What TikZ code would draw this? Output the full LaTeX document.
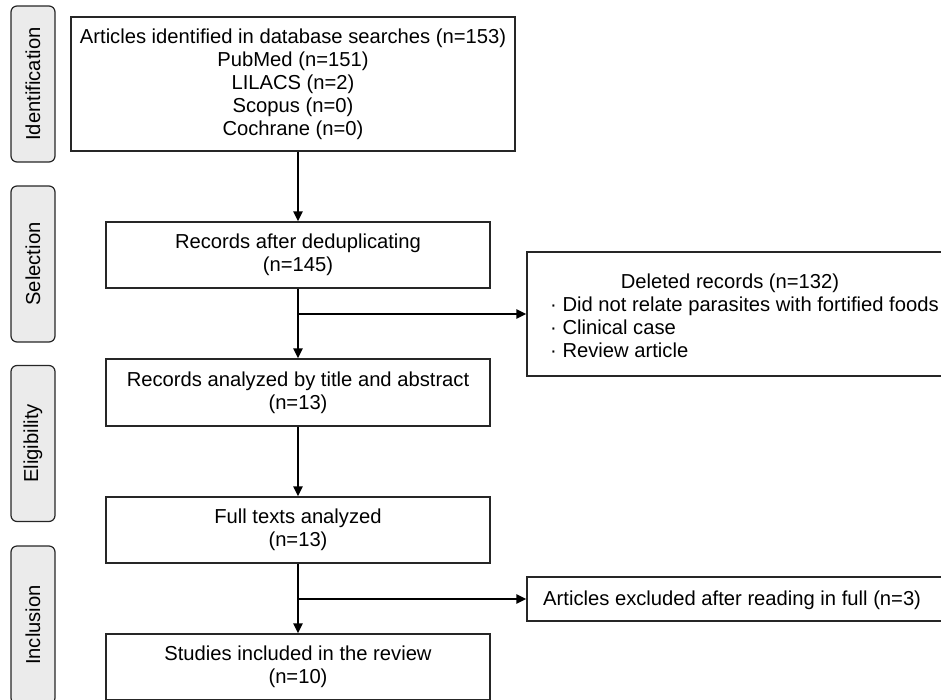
\documentclass[tikz,border=0pt]{standalone}
\usepackage{fontspec}
\setmainfont{Liberation Sans}
\usetikzlibrary{arrows.meta}
\begin{document}
\begin{tikzpicture}[x=1pt,y=-1pt,
  every node/.style={font=\fontsize{20.2}{23}\selectfont, inner sep=0pt},
  box/.style={draw=black!85, line width=1.3pt, fill=white, align=center},
  phase/.style={draw=black!85, line width=1.2pt, fill=black!8, rounded corners=6pt,
    rotate=90, minimum width=156pt, minimum height=44pt},
  conn/.style={line width=2.2pt, -{Triangle[length=10pt,width=9pt]}}]
\useasboundingbox (0,0) rectangle (941,699);
\clip (0,0) rectangle (941,699);
% phase labels
\node[phase] (pI) at (33,84) {Identification};
\node[phase] (pS) at (33,264) {Selection};
\node[phase] (pE) at (33,443.5) {Eligibility};
\node[phase, minimum width=158pt] (pN) at (33,625) {Inclusion};
% main boxes
\node[box, minimum width=444pt, minimum height=134pt] (b1) at (293,84)
  {Articles identified in database searches (n=153)\\PubMed (n=151)\\LILACS (n=2)\\Scopus (n=0)\\Cochrane (n=0)};
\node[box, minimum width=384pt, minimum height=66pt] (b2) at (298,255)
  {Records after deduplicating\\(n=145)};
\node[box, minimum width=384pt, minimum height=67pt] (b3) at (298,392.5)
  {Records analyzed by title and abstract\\(n=13)};
\node[box, minimum width=384pt, minimum height=66pt] (b4) at (298,530)
  {Full texts analyzed\\(n=13)};
\node[box, minimum width=384pt, minimum height=66pt] (b5) at (298,667)
  {Studies included in the review\\(n=10)};
% side boxes
\node[box, minimum width=433pt, minimum height=124pt] (del) at (743.5,314) {};
\node[anchor=base] (delT) at (730,288) {Deleted records (n=132)};
\node[anchor=base west] (del1) at (550,311) {\textperiodcentered\ Did not relate parasites with fortified foods};
\node[anchor=base west] (del2) at (550,334) {\textperiodcentered\ Clinical case};
\node[anchor=base west] (del3) at (550,357) {\textperiodcentered\ Review article};
\node[box, minimum width=433pt, minimum height=44pt] (exc) at (743.5,599) {};
\node[anchor=base west] (excT) at (543,605) {Articles excluded after reading in full (n=3)};
% connectors
\draw[conn] (b1.south -| b2.north) -- (b2.north);
\draw[conn] (b2.south) -- (b3.north);
\draw[conn] (b2.south |- del.west) -- (del.west);
\draw[conn] (b3.south) -- (b4.north);
\draw[conn] (b4.south) -- (b5.north);
\draw[conn] (b4.south |- exc.west) -- (exc.west);
\end{tikzpicture}
\end{document}
